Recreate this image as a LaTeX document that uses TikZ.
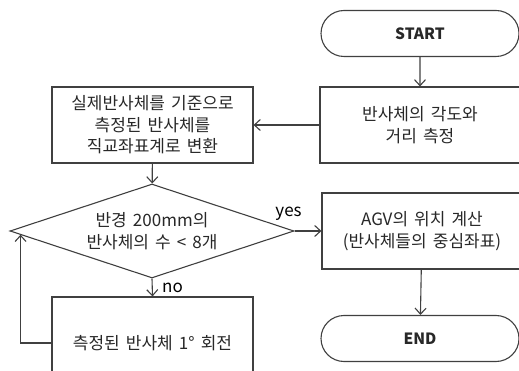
\documentclass[tikz,border=0pt]{standalone}
\usepackage{fontspec}
\setmainfont[WordSpace=1.6]{Noto Sans CJK KR}
\usepackage{tikz}
\usetikzlibrary{arrows.meta, positioning, calc, shapes.geometric, shapes.misc}
\definecolor{flowline}{RGB}{64, 64, 64}
\definecolor{flowtext}{RGB}{40, 40, 40}
\newcommand{\flowfont}{\fontsize{17}{21.5}\selectfont}
\tikzset{
  flowbox/.style={draw=flowline, line width=1.1pt, fill=white, align=center,
    minimum width=201pt, minimum height=76pt, inner sep=0pt, text=flowtext},
  terminal/.style={draw=flowline, line width=1.1pt, rounded rectangle, fill=white,
    minimum width=198pt, minimum height=46pt, inner sep=0pt,
    font=\fontsize{15.5}{18}\selectfont\bfseries, text=flowtext},
  decision/.style={draw=flowline, line width=1.1pt, diamond, aspect=3, fill=white,
    minimum width=284pt, minimum height=94pt, inner sep=0pt, align=center, text=flowtext},
  flow/.style={draw=flowline, line width=1.1pt, -{Straight Barb[length=6pt, width=11pt]}}
}

\begin{document}
\begin{tikzpicture}[x=1pt, y=1pt, font=\flowfont]
    \useasboundingbox (0,0) rectangle (519,-371);
    \clip (0,0) rectangle (519,-371);
    % right column
    \node[terminal] (start) at (420,-33.5) {START};
    \node[flowbox, minimum width=200pt] (measure) at (420,-125) {반사체의 각도와\\거리 측정};
    \node[flowbox, minimum width=200pt] (agv) at (422,-231) {AGV의 위치 계산\\(반사체들의 중심좌표)};
    \node[terminal] (end) at (420,-338.5) {END};
    % left column
    \node[flowbox] (convert) at (152.5,-125) {실제반사체를 기준으로\\측정된 반사체를\\직교좌표계로 변환};
    \node[decision] (cond) at (152,-231) {반경 200mm의\\반사체의 수 < 8개};
    \node[flowbox, minimum height=92pt] (rotate) at (152.5,-343) {측정된 반사체 1° 회전};
    % connectors
    \draw[flow] (start) -- (measure);
    \draw[flow] (measure) -- (convert);
    \draw[flow] (convert) -- (cond);
    \draw[flow] (cond.east) -- (agv.west) node[pos=0, above=7pt, xshift=-6pt] {yes};
    \draw[flow] (cond.south) -- (rotate.north) node[midway, right=6pt] {no};
    \draw[flow] (agv) -- (end);
    \coordinate (hit) at ($(cond.west)!0.078!(cond.south)$);
    \draw[flow] (rotate.west) -| (hit);
\end{tikzpicture}
\end{document}
